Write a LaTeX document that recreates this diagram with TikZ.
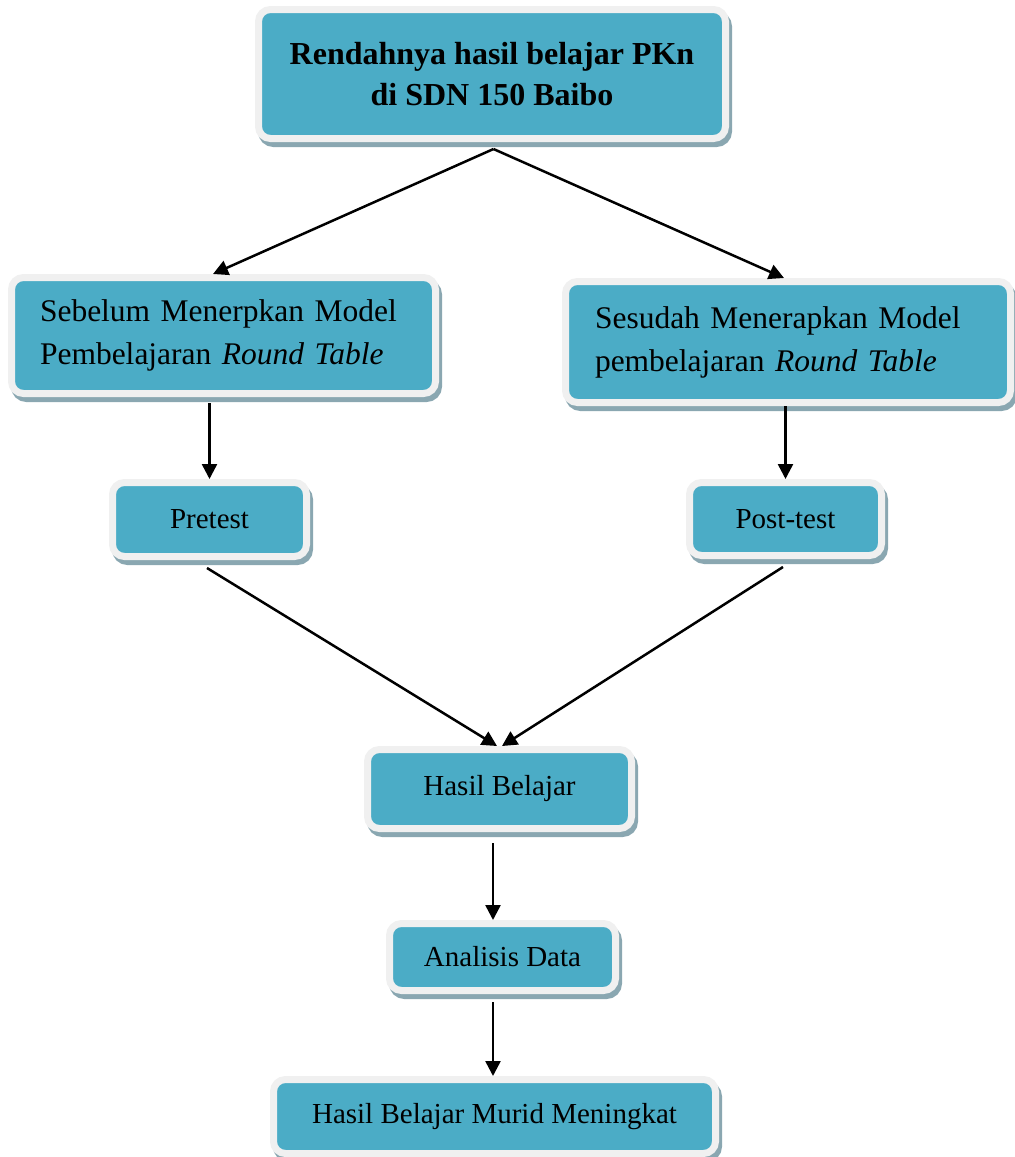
\documentclass[tikz,border=0pt]{standalone}
\usepackage{fontspec}
\setmainfont{Liberation Serif}
\usetikzlibrary{arrows.meta,shadows}
\definecolor{boxblue}{HTML}{4BACC6}
\definecolor{ringgray}{HTML}{F0F0F0}
\definecolor{shadowcol}{HTML}{8AA7B1}
\begin{document}
\begin{tikzpicture}[x=1pt,y=-1pt,
  box/.style={rectangle, rounded corners=12pt, fill=boxblue, draw=ringgray, line width=7pt,
    drop shadow={shadow xshift=3pt, shadow yshift=-5pt, fill=shadowcol, draw=shadowcol, line width=7pt, opacity=1},
    inner sep=0pt, align=center, text=black, font=\fontsize{29}{35}\selectfont},
  bigtext/.style={font=\fontsize{32}{41}\selectfont\bfseries},
  twoline/.style={font=\fontsize{31.5}{43}\selectfont, align=left},
  arr/.style={-{Triangle[length=15pt,width=15pt]}, line width=2.5pt, black}]
\useasboundingbox (0,0) rectangle (1015,1157);
\node[box, bigtext, minimum width=467pt, minimum height=129pt] (top) at (492,74)
  {Rendahnya hasil belajar PKn\\di SDN 150 Baibo};
\node[box, twoline, inner xsep=28.5pt, text width=367pt, minimum width=424pt, minimum height=116pt] (sebelum) at (223.5,335.5)
  {Sebelum Menerpkan Model\\Pembelajaran \textit{Round Table}};
\node[box, twoline, inner xsep=29.5pt, text width=386pt, minimum width=445pt, minimum height=121pt] (sesudah) at (788,342)
  {Sesudah Menerapkan Model\\pembelajaran \textit{Round Table}};
\node[box, minimum width=194pt, minimum height=74pt] (pretest) at (209.5,519.5) {Pretest};
\node[box, minimum width=192pt, minimum height=73pt] (posttest) at (785.5,519) {Post-test};
\node[box, minimum width=264pt, minimum height=79pt] (hasil) at (499.5,789) {Hasil Belajar};
\node[box, minimum width=226pt, minimum height=67pt] (analisis) at (502.5,957) {Analisis Data};
\node[box, minimum width=442pt, minimum height=74pt] (bottom) at (494.5,1116.5) {Hasil Belajar Murid Meningkat};
\coordinate (apex) at ([xshift=1.5pt,yshift=-7pt]top.south);
\draw[arr] (apex) -- ([xshift=-10.5pt]sebelum.north);
\draw[arr] (apex) -- ([xshift=-4pt]sesudah.north);
\draw[arr, shorten <=6pt] (sebelum.south -| pretest.north) -- (pretest.north);
\draw[arr] (sesudah.south -| posttest.north) -- (posttest.north);
\draw[arr] ([xshift=-2.5pt,yshift=-8pt]pretest.south) -- ([xshift=-2.5pt]hasil.north);
\draw[arr] ([xshift=-2.5pt,yshift=-8pt]posttest.south) -- ([xshift=2.5pt]hasil.north);
\draw[arr, shorten <=11pt] ([xshift=-6.5pt]hasil.south) -- ([xshift=-9.5pt]analisis.north);
\draw[arr, shorten <=8pt] ([xshift=-9.5pt]analisis.south) -- ([xshift=-1.5pt]bottom.north);
\end{tikzpicture}
\end{document}
